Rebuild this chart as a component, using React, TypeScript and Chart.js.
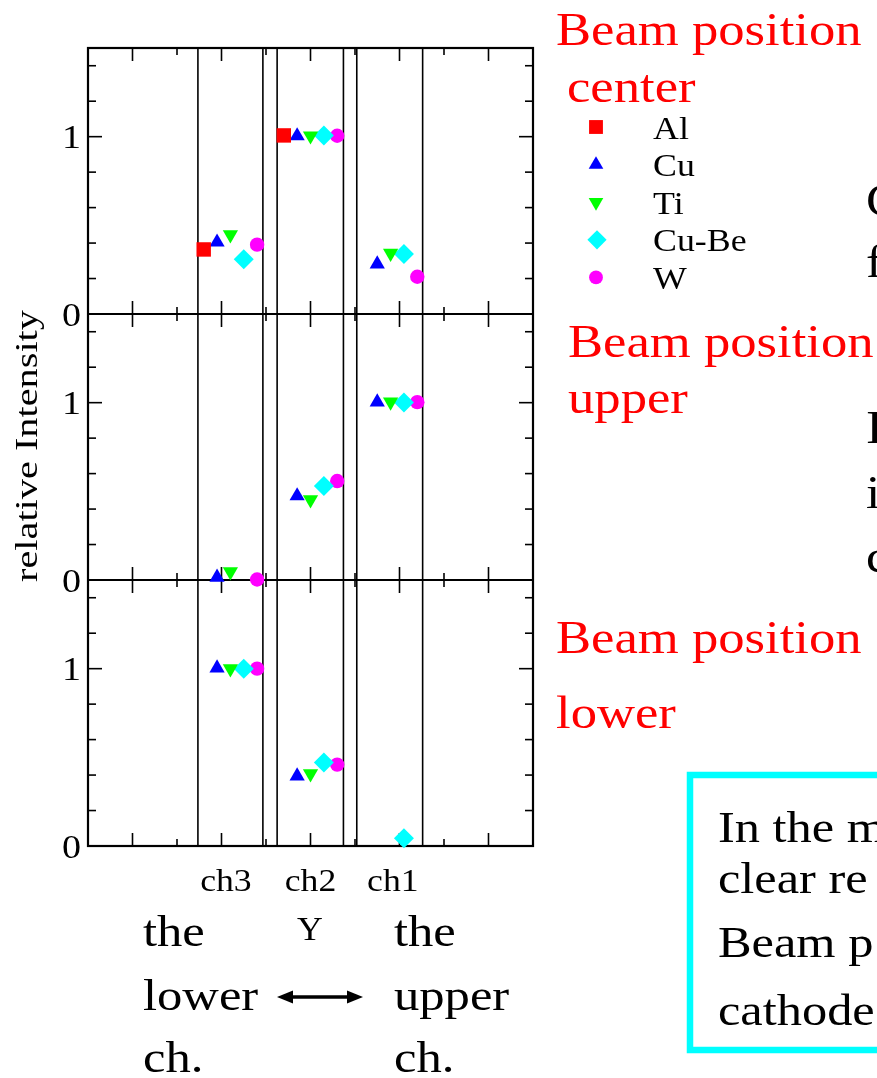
import React, { useEffect, useRef } from 'react';
import { Chart, registerables } from 'chart.js';

Chart.register(...registerables);

const FONT = "'Liberation Serif', 'Times New Roman', serif";

// ---- data ----
const materials = ['Al', 'Cu', 'Ti', 'Cu-Be', 'W'];
const materialColors = ['#ff0000', '#0000ff', '#00ff00', '#00ffff', '#ff00ff'];
const materialShapes = ['rect', 'triangle', 'triangle', 'rectRot', 'circle'];
const materialRotations = [0, 0, 180, 0, 0];
const materialRadii = [10.2, 8.8, 8.8, 10, 7.2];

const channelLabels = ['ch3', 'ch2', 'ch1'];
const channelLabelPos = [3.1, 5.0, 6.85];
// x position of each material's marker inside each channel
const ch3X = [2.6, 2.9, 3.2, 3.5, 3.8];
const ch2X = [4.4, 4.7, 5.0, 5.3, 5.6];
const ch1X = [6.2, 6.5, 6.8, 7.1, 7.4];
const channelEdges = [[2.47, 3.93], [4.25, 5.74], [6.04, 7.52]];

// relative intensity per material: [ch3, ch2, ch1]
const centerValues: (number | null)[][] = [
  [0.364, 1.007, null],
  [0.405, 1.004, 0.282],
  [0.447, 1.005, 0.343],
  [0.309, 1.006, 0.339],
  [0.391, 1.005, 0.21],
];
const upperValues: (number | null)[][] = [
  [null, null, null],
  [0.015, 0.474, 1.003],
  [0.047, 0.453, 1.004],
  [null, 0.53, 1.001],
  [0.003, 0.558, 1.003],
];
const lowerValues: (number | null)[][] = [
  [null, null, null],
  [1.003, 0.394, null],
  [1.0, 0.408, null],
  [1.0, 0.471, 0.043],
  [1.0, 0.459, null],
];

const yTickValues = [0, 1];
const yTickLabels = ['0', '1'];
const yMinorStep = 0.2;
const xMajorTicks = [1, 3, 5, 7, 9];
const xMinorTicks = [2, 4, 6, 8];

const panelTitles = [
  ['Beam position', 'center'],
  ['Beam position', 'upper'],
  ['Beam position', 'lower'],
];
const rightFragments = ['C', 'f', 'I', 'i', 'c'];
const boxLines = ['In the m', 'clear re', 'Beam p', 'cathode'];

const panelIds = ['yCenter', 'yUpper', 'yLower'];
const panelValues = [centerValues, upperValues, lowerValues];
const channelX = [ch3X, ch2X, ch1X];

function drawText(
  ctx: CanvasRenderingContext2D, s: string, x: number, y: number, size: number,
  color: string, sx = 1, align: CanvasTextAlign = 'left', rot = 0
) {
  ctx.save();
  ctx.translate(x, y);
  if (rot) ctx.rotate(rot);
  ctx.scale(sx, 1);
  ctx.font = `${size}px ${FONT}`;
  ctx.fillStyle = color;
  ctx.textAlign = align;
  ctx.textBaseline = 'alphabetic';
  ctx.fillText(s, 0, 0);
  ctx.restore();
}

function drawShape(ctx: CanvasRenderingContext2D, style: string, rotDeg: number, r: number, x: number, y: number) {
  const rad = (rotDeg * Math.PI) / 180;
  ctx.beginPath();
  if (style === 'rect') {
    const s = Math.SQRT1_2 * r;
    ctx.rect(x - s, y - s, 2 * s, 2 * s);
  } else if (style === 'triangle') {
    let a = rad;
    ctx.moveTo(x + Math.sin(a) * r, y - Math.cos(a) * r);
    a += (2 * Math.PI) / 3;
    ctx.lineTo(x + Math.sin(a) * r, y - Math.cos(a) * r);
    a += (2 * Math.PI) / 3;
    ctx.lineTo(x + Math.sin(a) * r, y - Math.cos(a) * r);
    ctx.closePath();
  } else if (style === 'rectRot') {
    ctx.moveTo(x - r, y);
    ctx.lineTo(x, y - r);
    ctx.lineTo(x + r, y);
    ctx.lineTo(x, y + r);
    ctx.closePath();
  } else {
    ctx.arc(x, y, r, 0, Math.PI * 2);
  }
  ctx.fill();
}

function seg(ctx: CanvasRenderingContext2D, x1: number, y1: number, x2: number, y2: number) {
  ctx.beginPath();
  ctx.moveTo(x1, y1);
  ctx.lineTo(x2, y2);
  ctx.stroke();
}

const decorPlugin = {
  id: 'decor',
  beforeDatasetsDraw(chart: any) {
    const { ctx, chartArea: ca } = chart;
    const xs = chart.scales.x;
    ctx.save();
    ctx.strokeStyle = '#000';
    // channel boundary lines
    ctx.lineWidth = 1.6;
    channelEdges.forEach((pair) =>
      pair.forEach((v) => {
        const px = xs.getPixelForValue(v);
        seg(ctx, px, ca.top, px, ca.bottom);
      })
    );
    // inward ticks for each panel
    ctx.lineWidth = 1.6;
    panelIds.forEach((id) => {
      const s = chart.scales[id];
      for (let i = 1; i * yMinorStep < s.max - 1e-9; i++) {
        const v = i * yMinorStep;
        const major = yTickValues.some((t) => Math.abs(t - v) < 1e-9);
        const len = major ? 14 : 8;
        const py = s.getPixelForValue(v);
        seg(ctx, ca.left, py, ca.left + len, py);
        seg(ctx, ca.right, py, ca.right - len, py);
      }
      const drawX = (vals: number[], len: number) =>
        vals.forEach((v) => {
          const px = xs.getPixelForValue(v);
          seg(ctx, px, s.top, px, s.top + len);
          seg(ctx, px, s.bottom, px, s.bottom - len);
        });
      drawX(xMajorTicks, 13);
      drawX(xMinorTicks, 7);
    });
    // frame and panel separators
    ctx.lineWidth = 2.2;
    ctx.strokeRect(ca.left, ca.top, ca.right - ca.left, ca.bottom - ca.top);
    seg(ctx, ca.left, chart.scales.yCenter.bottom, ca.right, chart.scales.yCenter.bottom);
    seg(ctx, ca.left, chart.scales.yUpper.bottom, ca.right, chart.scales.yUpper.bottom);
    ctx.restore();
  },
  afterDraw(chart: any) {
    const { ctx } = chart;
    const xs = chart.scales.x;
    ctx.save();
    // y tick labels
    panelIds.forEach((id) => {
      const s = chart.scales[id];
      yTickValues.forEach((v, i) => {
        drawText(ctx, yTickLabels[i], 81, s.getPixelForValue(v) + 11.5, 34, '#000', 1.12, 'right');
      });
    });
    // y axis title
    drawText(ctx, 'relative Intensity', 36.5, 446, 31, '#000', 1.3, 'center', -Math.PI / 2);
    // channel labels
    channelLabels.forEach((l, i) => {
      drawText(ctx, l, xs.getPixelForValue(channelLabelPos[i]), 891, 31, '#000', 1.15, 'center');
    });
    drawText(ctx, 'Y', 310, 940, 34, '#000', 1.05, 'center');
    // bottom direction labels
    const leftWords = ['the', 'lower', 'ch.'];
    const rightWords = ['the', 'upper', 'ch.'];
    const rowsY = [946, 1010, 1072];
    leftWords.forEach((w, i) => drawText(ctx, w, 143, rowsY[i], 44, '#000', 1.15));
    rightWords.forEach((w, i) => drawText(ctx, w, 394, rowsY[i], 44, '#000', 1.15));
    // double arrow
    ctx.strokeStyle = '#000';
    ctx.fillStyle = '#000';
    ctx.lineWidth = 3.5;
    seg(ctx, 288, 997, 352, 997);
    ctx.beginPath();
    ctx.moveTo(277, 997); ctx.lineTo(293, 990.5); ctx.lineTo(293, 1003.5); ctx.closePath(); ctx.fill();
    ctx.beginPath();
    ctx.moveTo(363, 997); ctx.lineTo(347, 990.5); ctx.lineTo(347, 1003.5); ctx.closePath(); ctx.fill();

    // panel titles (red)
    drawText(ctx, panelTitles[0][0], 556, 45, 47, '#ff0000', 1.12);
    drawText(ctx, panelTitles[0][1], 567, 101.5, 47, '#ff0000', 1.12);
    drawText(ctx, panelTitles[1][0], 568, 357, 47, '#ff0000', 1.12);
    drawText(ctx, panelTitles[1][1], 568, 413, 47, '#ff0000', 1.12);
    drawText(ctx, panelTitles[2][0], 556, 653, 47, '#ff0000', 1.12);
    drawText(ctx, panelTitles[2][1], 556, 728, 47, '#ff0000', 1.12);

    // legend
    materials.forEach((m, i) => {
      const cy = 127 + i * 37.6;
      ctx.fillStyle = materialColors[i];
      drawShape(ctx, materialShapes[i], materialRotations[i], materialRadii[i] * 0.96, i === 3 ? 597 : 596, cy);
      drawText(ctx, m, 653, cy + 11.5, 32, '#000', 1.12);
    });

    // clipped body text on the right edge
    const fragY = [216, 277, 443, 508, 572];
    rightFragments.forEach((t, i) => drawText(ctx, t, 866, fragY[i], 46, '#000', 1.12));

    // cyan box
    ctx.strokeStyle = '#00ffff';
    ctx.lineWidth = 6.5;
    ctx.strokeRect(690, 775, 260, 275);
    const boxY = [842, 893, 957, 1025];
    boxLines.forEach((t, i) => drawText(ctx, t, 718, boxY[i], 45, '#000', 1.12));
    ctx.restore();
  },
};

export default function App() {
  const ref = useRef<HTMLCanvasElement | null>(null);
  useEffect(() => {
    if (!ref.current) return;
    const datasets = panelIds.flatMap((id, pi) =>
      materials.map((m, mi) => ({
        label: `${m} ${id}`,
        xAxisID: 'x',
        yAxisID: id,
        data: channelX
          .map((xsArr, ci) => ({ x: xsArr[mi], y: panelValues[pi][mi][ci] }))
          .filter((d) => d.y !== null),
        pointStyle: materialShapes[mi],
        pointRotation: materialRotations[mi],
        pointRadius: materialRadii[mi],
        pointHoverRadius: materialRadii[mi],
        pointBackgroundColor: materialColors[mi],
        pointBorderWidth: 0,
        pointHoverBorderWidth: 0,
        showLine: false,
        clip: false as any,
      }))
    );
    const yBase = (weight: number) => ({
      type: 'linear' as const,
      position: 'left' as const,
      stack: 'panels',
      stackWeight: 1,
      weight,
      min: 0,
      max: 1.5,
      offset: false,
      grid: { display: false, drawTicks: false },
      border: { display: false },
      ticks: { display: false },
      afterFit: (s: any) => { s.width = 0; },
    });
    const chart = new Chart(ref.current, {
      type: 'scatter',
      data: { datasets: datasets as any },
      options: {
        responsive: false,
        animation: false,
        events: [],
        layout: { padding: { left: 88, right: 344, top: 48, bottom: 232 } },
        plugins: { legend: { display: false }, tooltip: { enabled: false } },
        scales: {
          x: { type: 'linear', min: 0, max: 10, display: false },
          yLower: yBase(1),
          yUpper: yBase(2),
          yCenter: yBase(3),
        } as any,
      },
      plugins: [decorPlugin],
    });
    return () => chart.destroy();
  }, []);
  return (
    <div style={{ position: 'absolute', left: 0, top: 0, width: 877, height: 1078, background: '#fff' }}>
      <canvas ref={ref} width={877} height={1078} style={{ display: 'block' }} />
    </div>
  );
}
